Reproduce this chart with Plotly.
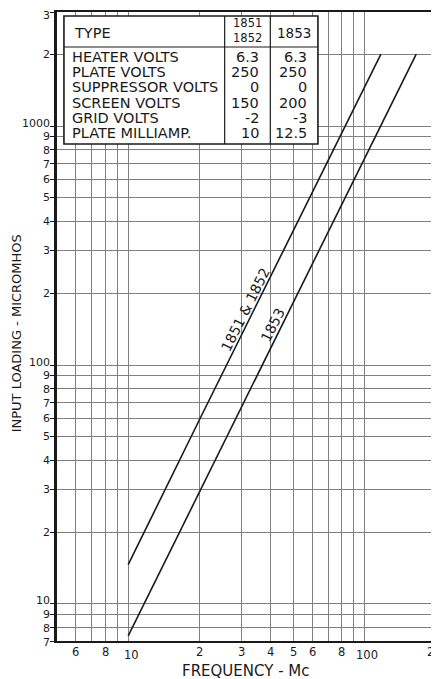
import numpy as np
import plotly.graph_objects as go

# ---- data ----
freq_1851_1852 = [10, 20, 50, 117]
load_1851_1852 = [14.6, 59, 367, 2000]
freq_1853 = [10, 20, 50, 165]
load_1853 = [7.35, 29.5, 184, 2000]

x_tick_vals = [6, 7, 8, 9, 10, 20, 30, 40, 50, 60, 70, 80, 90, 100, 200]
x_tick_text = ["6", "", "8", "", "10", "2", "3", "4", "5", "6", "", "8", "", "100", "2"]

y_tick_vals = [7, 8, 9, 10, 20, 30, 40, 50, 60, 70, 80, 90, 100,
               200, 300, 400, 500, 600, 700, 800, 900, 1000, 2000, 3000]
y_tick_text = ["7", "8", "9", "10", "2", "3", "4", "5", "6", "7", "8", "9", "100",
               "2", "3", "4", "5", "6", "7", "8", "9", "1000", "2", "3"]

table_type = "TYPE"
table_col1_header = ["1851", "1852"]
table_col2_header = "1853"
table_rows = ["HEATER VOLTS", "PLATE VOLTS", "SUPPRESSOR VOLTS",
              "SCREEN VOLTS", "GRID VOLTS", "PLATE MILLIAMP."]
vals_1851_1852 = ["6.3", "250", "0", "150", "-2", "10"]
vals_1853 = ["6.3", "250", "0", "200", "-3", "12.5"]

# ---- layout geometry (page body has an 8px margin) ----
OFF = 8
W, H = 431, 671
ML, MR, MT, MB = 49, 0, 4, 38
PW, PH = W - ML - MR, H - MT - MB


def px(xs):
    """screen x (px) -> paper x"""
    return (xs - OFF - ML) / PW


def py(ys):
    """screen y (px) -> paper y"""
    return (H - MB - (ys - OFF)) / PH


FONT = "DejaVu Sans"
INK = "#1a1a1a"
GRID = "#808080"

fig = go.Figure()
fig.add_trace(go.Scatter(x=freq_1851_1852, y=load_1851_1852, mode="lines",
                         line=dict(color=INK, width=1.6), showlegend=False,
                         hoverinfo="skip"))
fig.add_trace(go.Scatter(x=freq_1853, y=load_1853, mode="lines",
                         line=dict(color=INK, width=1.6), showlegend=False,
                         hoverinfo="skip"))

shapes = []
shapes.append(dict(type="rect", xref="paper", yref="paper",
                   x0=px(64), x1=px(320), y0=py(144), y1=py(16),
                   fillcolor="white", line=dict(color=INK, width=1.6), layer="above"))
shapes.append(dict(type="line", xref="paper", yref="paper",
                   x0=px(64), x1=px(320), y0=py(47), y1=py(47),
                   line=dict(color=INK, width=1.2), layer="above"))
for cx in (226, 272):
    shapes.append(dict(type="line", xref="paper", yref="paper",
                       x0=px(cx), x1=px(cx), y0=py(144), y1=py(16),
                       line=dict(color=INK, width=1.2), layer="above"))

annotations = []


def ann(text, x, y, size, xanchor="center", yanchor="middle", xref="paper", yref="paper",
        angle=0, xshift=0, yshift=0):
    annotations.append(dict(text=text, x=x, y=y, xref=xref, yref=yref,
                            xanchor=xanchor, yanchor=yanchor, showarrow=False,
                            textangle=angle, xshift=xshift, yshift=yshift,
                            font=dict(family=FONT, size=size, color=INK)))


# table text
ann(table_type, px(72), py(33), 14.5, xanchor="left")
ann("<br>".join(table_col1_header), px(249), py(31), 11.5)
ann(table_col2_header, px(296), py(33), 13.5)
row_y = [57, 72, 87, 103, 118, 133]
for lab, v1, v2, ry in zip(table_rows, vals_1851_1852, vals_1853, row_y):
    ann(lab, px(70), py(ry), 14.5, xanchor="left")
    ann(v1, px(263), py(ry), 14.5, xanchor="right")
    ann(v2, px(311), py(ry), 14.5, xanchor="right")

# curve labels
ann("1851 & 1852", np.log10(31.2), np.log10(170), 14, xref="x", yref="y", angle=-63.4)
ann("1853", np.log10(40.8), np.log10(147), 14, xref="x", yref="y", angle=-63.4)

# y tick labels (text placed on the y scale, nudged apart where crowded)
for v, t in zip(y_tick_vals, y_tick_text):
    lead = int(str(v)[0])
    ys = {1: 3, 9: 0, 8: -1, 7: -1}.get(lead, 0)
    if v == 7:
        ys = -1.5
    if v == 3000:
        ys = -3
    ann(t, 0, np.log10(v), 11, xanchor="right", yref="y", xshift=-5, yshift=ys)

# x tick labels
for v, t in zip(x_tick_vals, x_tick_text):
    if not t:
        continue
    ys = -5 if t in ("10", "100") else -2
    xs = 3 if t == "10" else (2 if t == "100" else 0)
    if v == 200:
        ann(t, 1, 0, 11.5, xanchor="right", yanchor="top", yshift=ys)
    else:
        ann(t, np.log10(v), 0, 11.5, xref="x", yanchor="top", yshift=ys, xshift=xs)

# axis titles
ann("FREQUENCY - Mc", px(247), py(671), 15)
ann("INPUT LOADING - MICROMHOS", px(16), py(333), 13, angle=-90)

fig.update_layout(
    width=W, height=H,
    margin=dict(l=ML, r=MR, t=MT, b=MB, pad=0),
    paper_bgcolor="white", plot_bgcolor="white",
    font=dict(family=FONT, size=12, color=INK),
    shapes=shapes, annotations=annotations,
    showlegend=False,
)
fig.update_xaxes(type="log", range=[np.log10(5), np.log10(200)],
                 tickmode="array", tickvals=x_tick_vals, showticklabels=False,
                 showgrid=True, gridcolor=GRID, gridwidth=1,
                 showline=True, linecolor=INK, linewidth=2, mirror=True,
                 ticks="", zeroline=False, fixedrange=True)
fig.update_yaxes(type="log", range=[np.log10(7), np.log10(3000)],
                 tickmode="array", tickvals=y_tick_vals, showticklabels=False,
                 showgrid=True, gridcolor=GRID, gridwidth=1,
                 showline=True, linecolor=INK, linewidth=2.5, mirror=True,
                 ticks="outside", ticklen=4, tickwidth=1, tickcolor=INK,
                 zeroline=False, fixedrange=True)

fig.write_html("out.html")
